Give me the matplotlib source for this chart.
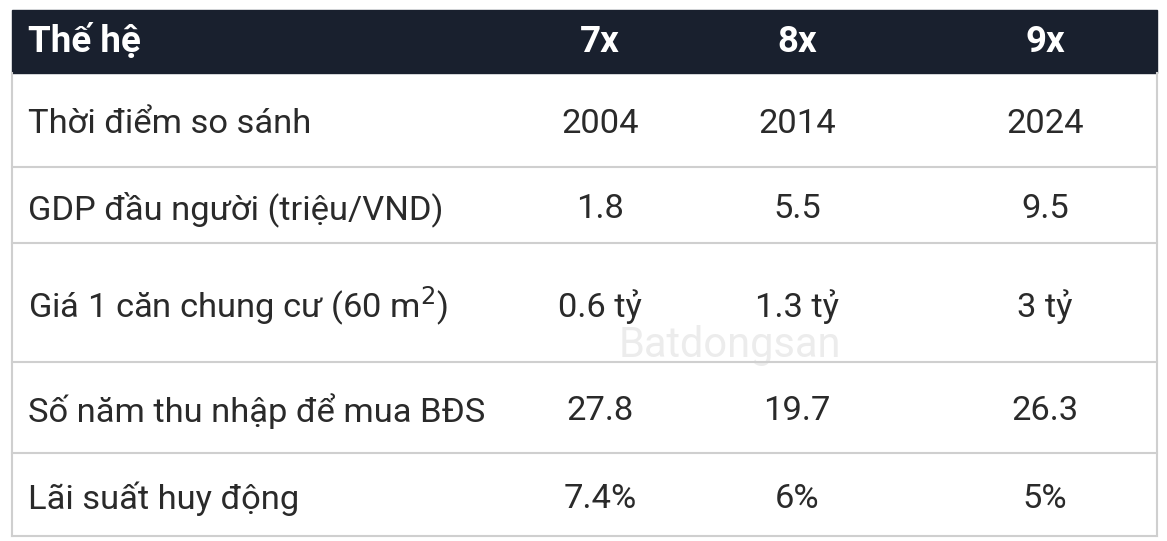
import matplotlib
matplotlib.use("Agg")
import matplotlib.pyplot as plt

header = ["Thế hệ", "7x", "8x", "9x"]
row_labels = ["Thời điểm so sánh", "GDP đầu người (triệu/VND)", "Giá 1 căn chung cư (60 m$^2$)",
              "Số năm thu nhập để mua BĐS", "Lãi suất huy động"]
col_7x = ["2004", "1.8", "0.6 tỷ", "27.8", "7.4%"]
col_8x = ["2014", "5.5", "1.3 tỷ", "19.7", "6%"]
col_9x = ["2024", "9.5", "3 tỷ", "26.3", "5%"]

W, H = 1167, 541
fig = plt.figure(figsize=(W/100, H/100), dpi=100)
ax = fig.add_axes([0, 0, 1, 1])
ax.set_xlim(0, W); ax.set_ylim(H, 0); ax.axis("off")
fam = ["Roboto", "DejaVu Sans"]

left, right = 12, 1157
bounds = [10, 73, 167, 243, 362, 453, 536]
colx = [600, 797, 1045]
ax.add_patch(plt.Rectangle((left, bounds[0]), right-left, bounds[1]-bounds[0], color="#19202e", zorder=1))
ax.text(28, (bounds[0]+bounds[1])/2, header[0], color="white", fontsize=26.5, fontweight="bold",
        va="center", ha="left", family=fam)
for x, h in zip(colx, header[1:]):
    ax.text(x, (bounds[0]+bounds[1])/2, h, color="white", fontsize=26.5, fontweight="bold",
            va="center", ha="center", family=fam)

ax.text(730, 345, "Batdongsan", color="#ececec", fontsize=30, ha="center", va="center", family=fam, zorder=0)

for i, lab in enumerate(row_labels):
    yc = (bounds[i+1]+bounds[i+2])/2 + 4
    ax.text(28, yc, lab, color="#2a2a2a", fontsize=24.8, va="center", ha="left", family=fam)
    for x, col in zip(colx, [col_7x, col_8x, col_9x]):
        ax.text(x, yc, col[i], color="#2a2a2a", fontsize=24.8, va="center", ha="center", family=fam)
    ax.plot([left, right], [bounds[i+2], bounds[i+2]], color="#cfcfcf", lw=1.5)
ax.plot([left, left], [bounds[1], bounds[-1]], color="#cfcfcf", lw=1.5)
ax.plot([right, right], [bounds[1], bounds[-1]], color="#cfcfcf", lw=1.5)

fig.savefig("out.png", dpi=100, facecolor="white")
